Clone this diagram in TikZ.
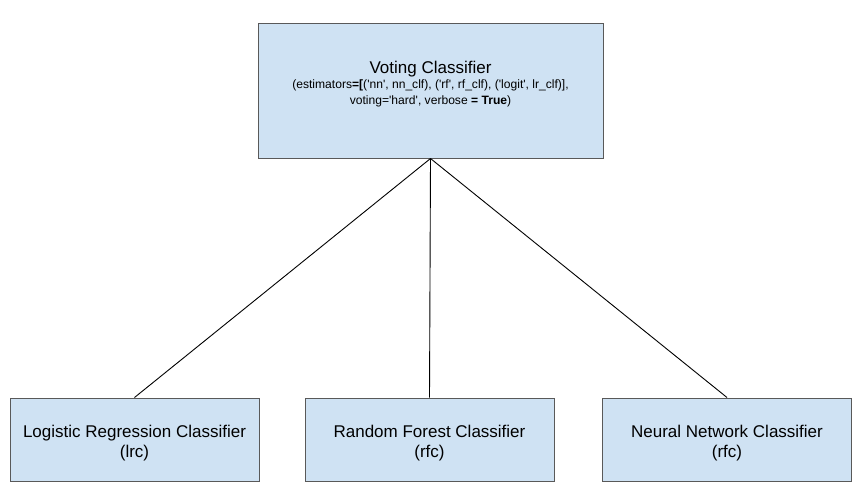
\documentclass[tikz,border=0pt]{standalone}
\usepackage{fontspec}
\setmainfont{Liberation Sans}[Ligatures=TeXOff]
\definecolor{boxfill}{HTML}{CFE2F3}
\definecolor{boxline}{HTML}{595959}
\begin{document}
\begin{tikzpicture}[x=1pt,y=-1pt,
  box/.style={draw=boxline, fill=boxfill, line width=1pt, inner sep=0pt, anchor=center},
  conn/.style={draw=black, line width=0.9pt},
  txt/.style={inner sep=0pt, anchor=base},
  lbl/.style={align=center, inner sep=0pt, font=\fontsize{17}{20}\selectfont}]
\useasboundingbox (0,0) rectangle (864,493);
\node[box, minimum width=345pt, minimum height=135pt] (vc) at (430.5,90.5) {};
\node[txt, font=\fontsize{17}{20}\selectfont] (vct) at (430.5,73) {Voting Classifier};
\node[txt, font=\fontsize{12.1}{16}\selectfont] (vcs1) at (430.5,88.5) {(estimators\textbf{=[}('nn', nn\_clf), ('rf', rf\_clf), ('logit', lr\_clf)],};
\node[txt, font=\fontsize{12.1}{16}\selectfont] (vcs2) at (430.5,104.5) {voting='hard', verbose \textbf{= True})};
\node[box, minimum width=249pt, minimum height=83pt] (lr) at (134.5,439.5) {};
\node[lbl] (lrt) at ([yshift=-4pt]lr.center) {Logistic Regression Classifier\\(lrc)};
\node[box, minimum width=249pt, minimum height=83pt] (rf) at (429.5,439.5) {};
\node[lbl] (rft) at ([yshift=-4pt]rf.center) {Random Forest Classifier\\(rfc)};
\node[box, minimum width=249pt, minimum height=83pt] (nn) at (727,439.5) {};
\node[lbl] (nnt) at ([yshift=-4pt]nn.center) {Neural Network Classifier\\(rfc)};
\draw[conn] (vc.south) -- (lr.north);
\draw[conn] (vc.south) -- (rf.north);
\draw[conn] (vc.south) -- (nn.north);
\end{tikzpicture}
\end{document}
